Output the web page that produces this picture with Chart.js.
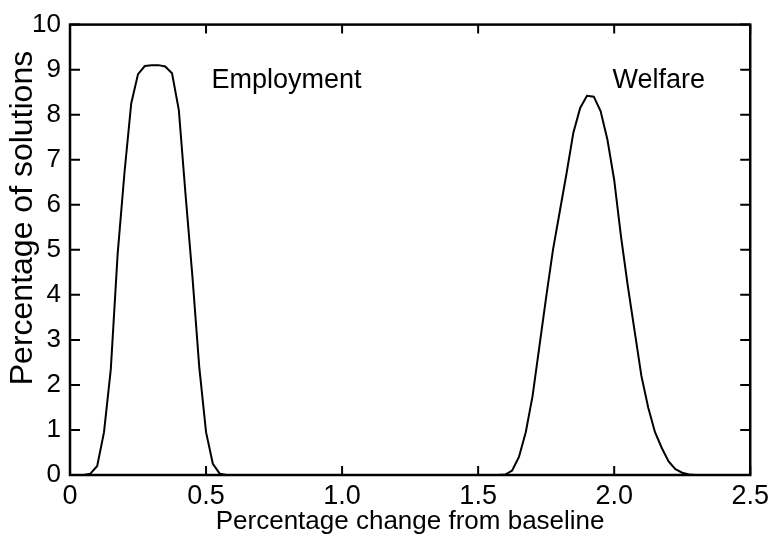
<!DOCTYPE html>
<html>
<head>
<meta charset="utf-8">
<script src="https://cdn.jsdelivr.net/npm/chart.js@4/dist/chart.umd.min.js"></script>
<style>
html,body{margin:0;padding:0;background:#fff;}
canvas{display:block;}
</style>
</head>
<body>
<canvas id="c" width="774" height="535"></canvas>
<script>
// ---- data ----
const employmentX = [0, 0.025, 0.05, 0.075, 0.1, 0.125, 0.15, 0.175, 0.2, 0.225, 0.25, 0.275, 0.3, 0.325, 0.35, 0.375, 0.4, 0.425, 0.45, 0.475, 0.5, 0.525, 0.55, 0.575, 0.6];
const employmentY = [0, 0, 0, 0.03, 0.2, 0.95, 2.35, 4.9, 6.7, 8.25, 8.9, 9.08, 9.1, 9.1, 9.07, 8.92, 8.1, 6.2, 4.4, 2.4, 0.95, 0.25, 0.03, 0, 0];
const welfareX = [1.55, 1.575, 1.6, 1.625, 1.65, 1.675, 1.7, 1.725, 1.75, 1.775, 1.8, 1.825, 1.85, 1.875, 1.9, 1.925, 1.95, 1.975, 2.0, 2.025, 2.05, 2.075, 2.1, 2.125, 2.15, 2.175, 2.2, 2.225, 2.25, 2.275, 2.3];
const welfareY = [0, 0, 0.01, 0.1, 0.4, 0.95, 1.75, 2.85, 3.95, 5.0, 5.85, 6.7, 7.6, 8.15, 8.42, 8.4, 8.08, 7.45, 6.55, 5.3, 4.2, 3.2, 2.2, 1.5, 0.95, 0.6, 0.3, 0.13, 0.05, 0.01, 0];
const seriesNames = ['Employment', 'Welfare'];
const xTickValues = [0, 0.5, 1.0, 1.5, 2.0, 2.5];
const xTickLabels = ['0', '0.5', '1.0', '1.5', '2.0', '2.5'];
const yTickValues = [0, 1, 2, 3, 4, 5, 6, 7, 8, 9, 10];
const xTitle = 'Percentage change from baseline';
const yTitle = 'Percentage of solutions';

const FONT = "'Liberation Sans', Arial, Helvetica, sans-serif";

const toPoints = (xs, ys) => xs.map((x, i) => ({x: x, y: ys[i]}));

// frame, inward tick marks, series labels and y title
const decor = {
  id: 'decor',
  afterDraw(chart, args, opts) {
    const {ctx, chartArea: {left, right, top, bottom}, scales: {x, y}} = chart;
    ctx.save();
    ctx.strokeStyle = '#000';
    ctx.lineWidth = 2;
    ctx.beginPath();
    x.ticks.forEach(t => {
      const px = x.getPixelForValue(t.value);
      ctx.moveTo(px, bottom); ctx.lineTo(px, bottom - 9);
      ctx.moveTo(px, top); ctx.lineTo(px, top + 9);
    });
    y.ticks.forEach(t => {
      const py = y.getPixelForValue(t.value);
      ctx.moveTo(left, py); ctx.lineTo(left + 10, py);
      ctx.moveTo(right, py); ctx.lineTo(right - 10, py);
    });
    ctx.stroke();
    ctx.lineWidth = 2.5;
    ctx.strokeRect(left, top, right - left, bottom - top);

    // series labels
    ctx.fillStyle = '#000';
    ctx.font = '27px ' + FONT;
    ctx.textAlign = 'left';
    ctx.textBaseline = 'alphabetic';
    opts.labels.forEach(l => {
      ctx.fillText(l.text, x.getPixelForValue(l.x), y.getPixelForValue(l.y));
    });

    // y axis title
    ctx.font = '32px ' + FONT;
    ctx.textAlign = 'center';
    ctx.textBaseline = 'middle';
    ctx.translate(opts.yTitleX, opts.yTitleY);
    ctx.rotate(-Math.PI / 2);
    ctx.fillText(yTitle, 0, 0);
    ctx.restore();
  }
};

const lineStyle = {borderColor: '#000', backgroundColor: '#000', borderWidth: 2, pointRadius: 0, tension: 0, fill: false};

new Chart(document.getElementById('c'), {
  type: 'line',
  data: {
    datasets: [
      Object.assign({label: seriesNames[0], data: toPoints(employmentX, employmentY)}, lineStyle),
      Object.assign({label: seriesNames[1], data: toPoints(welfareX, welfareY)}, lineStyle)
    ]
  },
  options: {
    responsive: false,
    animation: false,
    devicePixelRatio: 1,
    layout: {padding: {left: 0, right: 23, top: 23, bottom: 0}},
    plugins: {
      legend: {display: false},
      tooltip: {enabled: false},
      decor: {
        labels: [
          {text: seriesNames[0], x: 0.52, y: 8.59},
          {text: seriesNames[1], x: 1.994, y: 8.59}
        ],
        yTitleX: 23,
        yTitleY: 218
      }
    },
    scales: {
      x: {
        type: 'linear',
        min: 0, max: 2.5,
        afterBuildTicks: s => { s.ticks = xTickValues.map(v => ({value: v})); },
        afterFit: s => { s.height = 60; },
        grid: {display: true, drawOnChartArea: false, drawTicks: false},
        border: {display: false},
        ticks: {
          color: '#000',
          font: {family: FONT, size: 27},
          padding: 5,
          maxRotation: 0,
          autoSkip: false,
          callback: (v) => { const i = xTickValues.indexOf(v); return i >= 0 ? xTickLabels[i] : ''; }
        },
        title: {
          display: true,
          text: xTitle,
          color: '#000',
          font: {family: FONT, size: 26, lineHeight: 1},
          padding: {top: 0, bottom: 0}
        }
      },
      y: {
        type: 'linear',
        min: 0, max: 10,
        afterBuildTicks: s => { s.ticks = yTickValues.map(v => ({value: v})); },
        afterFit: s => { s.width = 70; },
        grid: {display: true, drawOnChartArea: false, drawTicks: false},
        border: {display: false},
        ticks: {
          color: '#000',
          font: {family: FONT, size: 26},
          padding: 9,
          autoSkip: false
        }
      }
    }
  },
  plugins: [decor]
});
</script>
</body>
</html>
